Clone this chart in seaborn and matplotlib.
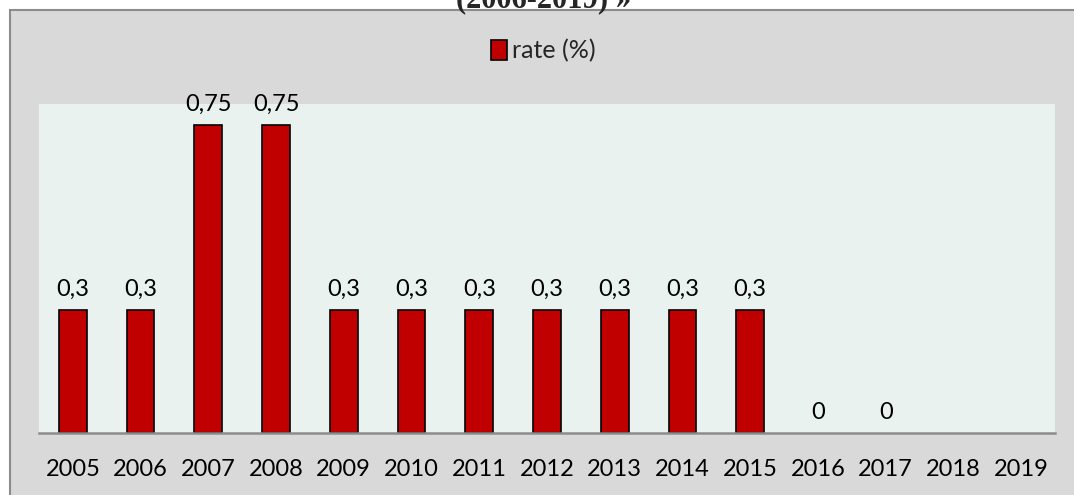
import numpy as np
import matplotlib
matplotlib.use("Agg")
from matplotlib import pyplot as plt
from matplotlib.patches import Rectangle
import seaborn as sns

years = ['2005', '2006', '2007', '2008', '2009', '2010', '2011', '2012',
         '2013', '2014', '2015', '2016', '2017', '2018', '2019']
rates = [0.3, 0.3, 0.75, 0.75, 0.3, 0.3, 0.3, 0.3, 0.3, 0.3, 0.3, 0, 0,
         np.nan, np.nan]
series_name = 'rate (%)'
title_tail = '(2006-2019) »'

sns.set_theme(style='white')
plt.rcParams['font.family'] = ['Lato', 'DejaVu Sans']

fig = plt.figure(figsize=(10.74, 4.95), dpi=100)
fig.patch.set_facecolor('white')

# grey chart frame, cut at the right and bottom like the screenshot
W, H = 1074, 495
fig.patches.append(Rectangle((10 / W, -0.05), 1.1, 1 - 10 / H + 0.05,
                             transform=fig.transFigure, facecolor='#d9d9d9',
                             edgecolor='#8c8c8c', linewidth=1.5, zorder=-5))

ax = fig.add_axes([39 / W, (H - 433) / H, 1016 / W, (433 - 104) / H])
ax.set_facecolor('#e9f2ef')

sns.barplot(x=years, y=rates, order=years, color='#c00000', width=0.41,
            edgecolor='black', linewidth=1.2, saturation=1, label=series_name,
            ax=ax)

ax.set_ylim(0, 0.8)
ax.set_xlim(-0.5, len(years) - 0.5)
for c in ax.containers:
    labels = [('%g' % b.get_height()).replace('.', ',') for b in c]
    ax.bar_label(c, labels=labels, padding=7, fontsize=17, color='black')
    # zero bars: no visible outline in the original
    for b in c:
        if b.get_height() == 0:
            b.set_linewidth(0)

for s in ['left', 'right', 'top']:
    ax.spines[s].set_visible(False)
ax.spines['bottom'].set_color('#8c8c8c')
ax.spines['bottom'].set_linewidth(1.8)
ax.spines['bottom'].set_zorder(5)
ax.set_yticks([])
ax.tick_params(axis='x', length=0, pad=19, labelsize=17, labelcolor='black')
ax.set_xlabel('')
ax.set_ylabel('')

ax.legend(loc='center', bbox_to_anchor=(0.5 + 6 / W, 1 - 51 / H),
          bbox_transform=fig.transFigure, frameon=False, fontsize=18,
          handlelength=0.65, handleheight=0.85, handletextpad=0.2)

fig.text(544 / W, 1 - 7 / H, title_tail, ha='center', va='baseline',
         fontsize=22, fontweight='bold', family='Liberation Serif')

fig.savefig('out.png', dpi=100)
